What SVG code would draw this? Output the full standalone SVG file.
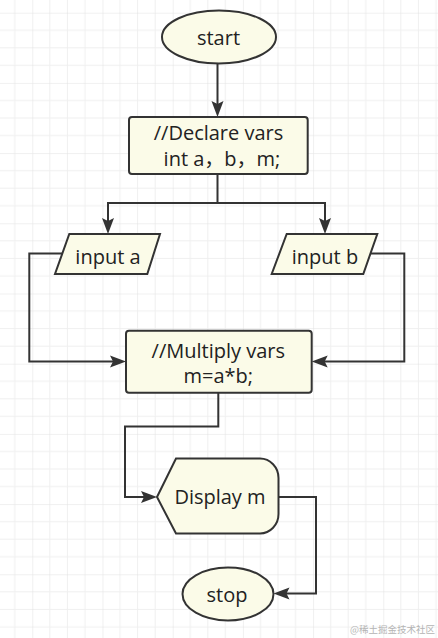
<svg xmlns="http://www.w3.org/2000/svg" width="438" height="638" viewBox="0 0 438 638">
<style>
.node{fill:#fbfbe8;stroke:#333333;stroke-width:2}
.lbl{font-family:"Open Sans","Noto Sans CJK SC",sans-serif;font-size:20px;fill:#222222;text-anchor:middle}
.edge{fill:none;stroke:#333333;stroke-width:2;marker-end:url(#arr)}
.wm{font-family:"Noto Sans CJK SC","Noto Sans",sans-serif;font-size:9.5px;fill:#b4b4b4;text-anchor:end}
</style>
<defs>
<pattern id="grid" patternUnits="userSpaceOnUse" x="32.3" y="12.7" width="70.2" height="70.2">
<g stroke="#efefef" stroke-width="1">
<line x1="17.55" y1="0" x2="17.55" y2="70.2"/>
<line x1="35.1" y1="0" x2="35.1" y2="70.2"/>
<line x1="52.65" y1="0" x2="52.65" y2="70.2"/>
<line x1="0" y1="17.55" x2="70.2" y2="17.55"/>
<line x1="0" y1="35.1" x2="70.2" y2="35.1"/>
<line x1="0" y1="52.65" x2="70.2" y2="52.65"/>
</g>
<g stroke="#e2e2e2" stroke-width="1">
<line x1="0" y1="0" x2="0" y2="70.2"/>
<line x1="0" y1="0" x2="70.2" y2="0"/>
</g>
</pattern>
<marker id="arr" markerUnits="userSpaceOnUse" markerWidth="17" markerHeight="13" refX="10" refY="6" orient="auto" overflow="visible">
<path d="M0,0 L16,6 L0,12 L3,6 Z" fill="#333333"/>
</marker>
</defs>
<rect width="438" height="638" fill="#ffffff"/>
<rect width="438" height="638" fill="url(#grid)"/>

<g id="connectors">
<path class="edge" d="M217.5,64 L217.5,111"/>
<path class="edge" d="M217.5,174 L217.5,203 L108,203 L108,228"/>
<path class="edge" d="M217.5,203 L325,203 L325,228"/>
<path class="edge" d="M62,253.5 L29.3,253.5 L29.3,361.5 L120,361.5"/>
<path class="edge" d="M370,253.5 L404.3,253.5 L404.3,361.5 L317.7,361.5"/>
<path class="edge" d="M218.3,393 L218.3,426.5 L125,426.5 L125,497 L151,497"/>
<path class="edge" d="M278.5,497 L316,497 L316,593.5 L279.5,593.5"/>
</g>

<g id="start">
<ellipse class="node" cx="219" cy="37" rx="57" ry="26.5"/>
<text class="lbl" x="218.5" y="45">start</text>
</g>

<g id="declare">
<rect class="node" x="129" y="117" width="178.7" height="57" rx="3"/>
<text class="lbl" x="218.5" y="140">//Declare vars</text>
<text class="lbl" x="222" y="165.5">int a，b，m;</text>
</g>

<g id="input-a">
<polygon class="node" points="69.3,234 160,234 147.3,274 55,274"/>
<text class="lbl" x="108" y="263.5">input a</text>
</g>

<g id="input-b">
<polygon class="node" points="286.7,234 377.3,234 363.3,274 271.7,274"/>
<text class="lbl" x="325" y="263.5">input b</text>
</g>

<g id="multiply">
<rect class="node" x="126" y="330.7" width="185.7" height="62" rx="3"/>
<text class="lbl" x="218.3" y="358.3">//Multiply vars</text>
<text class="lbl" x="218.3" y="383.3">m=a*b;</text>
</g>

<g id="display">
<path class="node" d="M157,497 L176,458.5 L260,458.5 A18.5,19.5 0 0 1 278.5,478 L278.5,514 A18.5,19.5 0 0 1 260,533.5 L176,533.5 Z"/>
<text class="lbl" x="220" y="504">Display m</text>
</g>

<g id="stop">
<ellipse class="node" cx="228" cy="594" rx="45.5" ry="26.5"/>
<text class="lbl" x="227" y="601.5">stop</text>
</g>

<text class="wm" x="435" y="633">@稀土掘金技术社区</text>
</svg>
